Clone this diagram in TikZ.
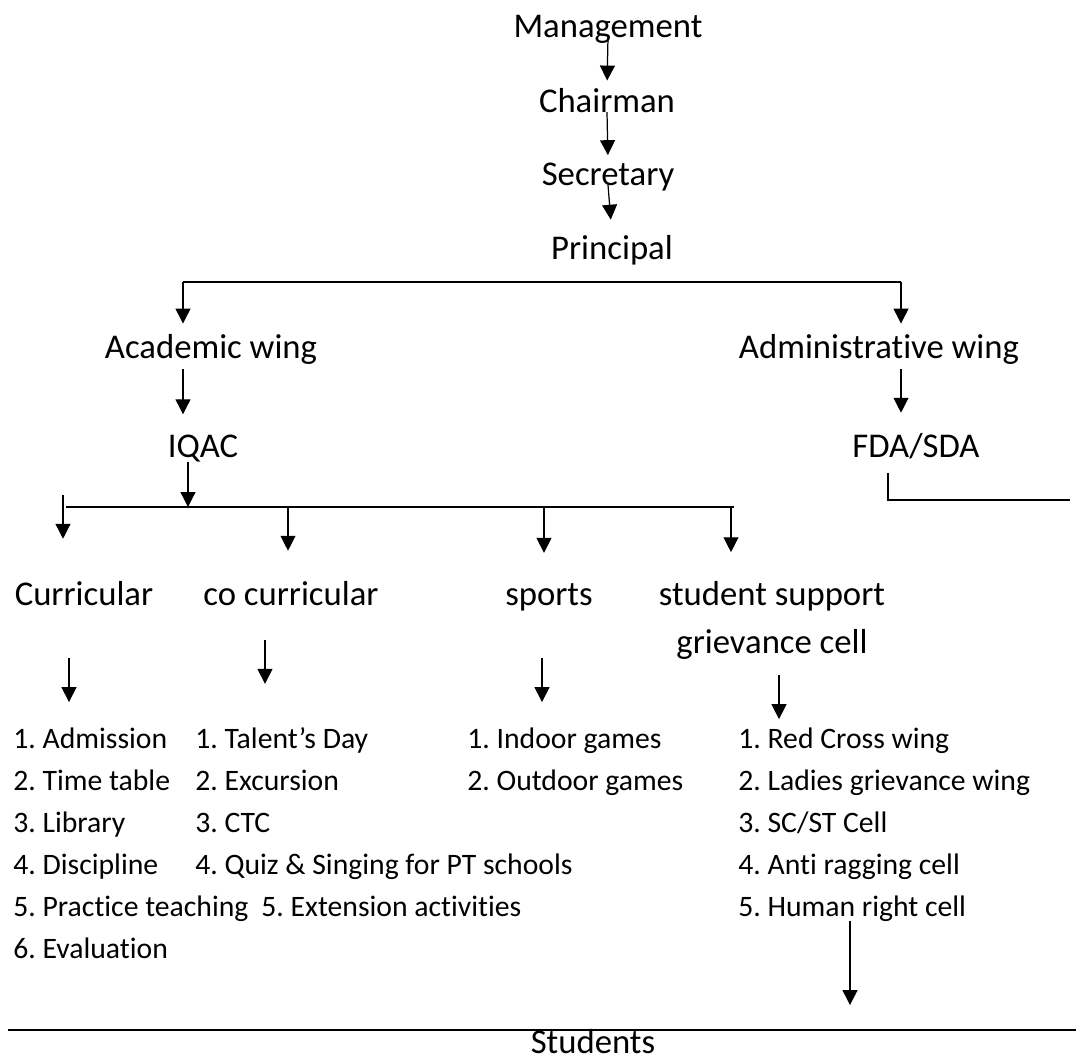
\documentclass[tikz,border=0pt]{standalone}
\usepackage{fontspec}
\setmainfont{Carlito}[RawFeature={-liga;-clig;-calt;-rlig;-dlig}]
\usepackage{tikz}
\usetikzlibrary{arrows.meta}
\frenchspacing
\tikzset{
  lab/.style={font=\fontsize{19.75}{27.2}\selectfont, inner sep=0pt, anchor=base},
  item/.style={font=\fontsize{16.9}{20}\selectfont, inner sep=0pt, anchor=base west},
  arr/.style={draw=black, line width=0.7pt, -{Triangle[width=8.5pt,length=8.5pt]}},
  bus/.style={draw=black, line width=1.1pt}
}

\begin{document}
\begin{tikzpicture}[x=0.02cm,y=-0.02cm]
  \useasboundingbox (0,0) rectangle (1076,1059);

  % chain of command
  \node[lab] (mgmt)  at (608,37)  {Management};
  \node[lab] (chair) at (607,112) {Chairman};
  \node[lab] (secy)  at (608,185) {Secretary};
  \node[lab] (prin)  at (612,259) {Principal};
  \draw[arr,shorten >=4pt] (mgmt.base) -- (chair.north);
  \draw[arr,shorten >=4pt] (chair.base) -- (secy.north);
  \draw[arr,shorten >=8.5pt] (secy.base) -- (prin.north);

  % wings
  \coordinate (bl) at (183,282);
  \coordinate (br) at (901,282);
  \node[lab] (acad)  at (211,358) {Academic wing};
  \node[lab] (admin) at (879,358) {Administrative wing};
  \node[lab] (iqac)  at (203,457) {IQAC};
  \node[lab] (fda)   at (916,457) {FDA/SDA};
  \draw[bus] (bl) -- (br);
  \draw[arr,shorten >=5.7pt] (bl) -- (bl |- acad.north);
  \draw[arr,shorten >=5.7pt] (br) -- (br |- admin.north);
  \draw[arr,shorten <=2.8pt,shorten >=11.3pt] (bl |- acad.south) -- (bl |- iqac.north);
  \draw[arr,shorten <=2.8pt,shorten >=11.3pt] (br |- admin.south) -- (br |- fda.north);
  \coordinate (fdac) at (888,500);
  \coordinate (fdae) at (1070,500);
  \draw[bus,shorten <=8pt] (fdac |- fda.south) -- (fdac) -- (fdae);

  % iqac committees
  \coordinate (ql) at (66,507);
  \coordinate (qr) at (734,507);
  \coordinate (qj) at (188,507);
  \draw[bus] (ql) -- (qr);
  \draw[arr] (qj |- iqac.south) -- (qj);
  \node[lab] (curr)  at (84,605)  {Curricular};
  \node[lab] (cocur) at (291,605) {co curricular};
  \node[lab] (sport) at (549,605) {sports};
  \node[lab,align=center,anchor=north] (supp) at (772,581) {student support\\grievance cell};
  \coordinate (d1) at (63,495);
  \coordinate (d2) at (288,507);
  \coordinate (d3) at (544,507);
  \coordinate (d4) at (731,507);
  \foreach \d/\n/\s in {d1/curr/23.8, d2/cocur/17, d3/sport/17, d4/supp/16.4}
    \draw[arr,shorten >=\s pt] (\d) -- (\d |- \n.north);

  % lists
  \foreach \t [count=\i] in {1. Admission, 2. Time table, 3. Library, 4. Discipline, 5. Practice teaching, 6. Evaluation}
    \node[item] (cur\i) at (13,{748+42*(\i-1)}) {\t};
  \foreach \t/\x [count=\i] in {1. Talent’s Day/195, 2. Excursion/195, 3. CTC/195, 4. Quiz \& Singing for PT schools/195, 5. Extension activities/261}
    \node[item] (co\i) at (\x,{748+42*(\i-1)}) {\t};
  \foreach \t [count=\i] in {1. Indoor games, 2. Outdoor games}
    \node[item] (sp\i) at (467,{748+42*(\i-1)}) {\t};
  \foreach \t [count=\i] in {1. Red Cross wing, 2. Ladies grievance wing, 3. SC/ST Cell, 4. Anti ragging cell, 5. Human right cell}
    \node[item] (st\i) at (738,{748+42*(\i-1)}) {\t};
  \coordinate (k1) at (69,658);
  \coordinate (k2) at (265,640);
  \coordinate (k3) at (542,658);
  \coordinate (k4) at (779,675);
  \draw[arr,shorten >=14.2pt] (k1) -- (k1 |- cur1.north);
  \draw[arr,shorten >=24.4pt] (k2) -- (k2 |- co1.north);
  \draw[arr,shorten >=14.2pt] (k3) -- (k3 |- sp1.north);
  \draw[arr,shorten >=4.5pt] (k4) -- (k4 |- st1.north);

  % students
  \coordinate (sl) at (8,1030);
  \coordinate (sr) at (1076,1030);
  \coordinate (k5) at (850,1030);
  \node[lab] (stud) at (593,1053) {Students};
  \draw[bus] (sl) -- (sr);
  \draw[arr,shorten >=14.2pt] (k5 |- st5.south) -- (k5);
\end{tikzpicture}
\end{document}
